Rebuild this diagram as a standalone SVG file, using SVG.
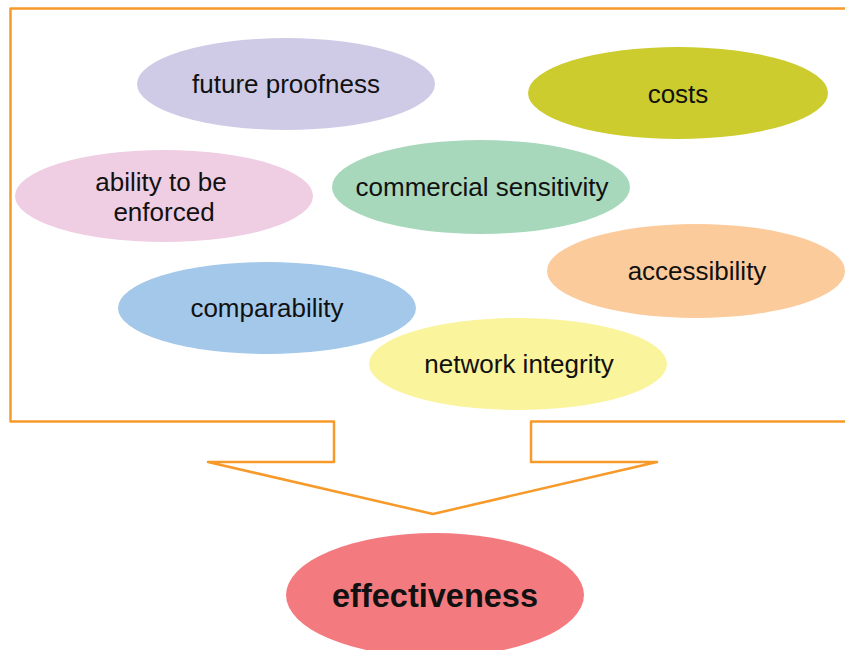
<svg xmlns="http://www.w3.org/2000/svg" width="845" height="650" viewBox="0 0 845 650">
<style>
.t{font-family:"Liberation Sans",Arial,sans-serif;font-size:26px;fill:#111;text-anchor:middle}
.b{font-family:"Liberation Sans",Arial,sans-serif;font-size:32.5px;font-weight:bold;fill:#111;text-anchor:middle}
</style>
<rect width="845" height="650" fill="#fff"/>
<g id="frame">
<path d="M848 8.5 H10.5 V421.5 H334 V462 H208 L433 514 L657 462 H531 V421.5 H848" fill="none" stroke="#f79a2a" stroke-width="2.5" stroke-linejoin="round"/>
</g>
<g id="future-proofness"><ellipse cx="286" cy="84" rx="149" ry="46" fill="#cfcbe6"/><text class="t" x="286" y="93">future proofness</text></g>
<g id="costs"><ellipse cx="678" cy="93" rx="150" ry="46" fill="#cccc2e"/><text class="t" x="678" y="103">costs</text></g>
<g id="ability"><ellipse cx="164" cy="196" rx="149" ry="46" fill="#efcde2"/><text class="t" x="161" y="191">ability to be</text><text class="t" x="164" y="221">enforced</text></g>
<g id="commercial-sensitivity"><ellipse cx="481" cy="187" rx="149" ry="47" fill="#a8d8bc"/><text class="t" x="482" y="196">commercial sensitivity</text></g>
<g id="accessibility"><ellipse cx="696" cy="271" rx="149" ry="47" fill="#fbcb9b"/><text class="t" x="697" y="280">accessibility</text></g>
<g id="comparability"><ellipse cx="267" cy="308" rx="149" ry="46" fill="#a4c8ea"/><text class="t" x="267" y="317">comparability</text></g>
<g id="network-integrity"><ellipse cx="518" cy="364" rx="149" ry="46" fill="#faf49c"/><text class="t" x="519" y="373">network integrity</text></g>
<g id="effectiveness"><ellipse cx="435" cy="595" rx="149" ry="62" fill="#f37b80"/><text class="b" x="435" y="607">effectiveness</text></g>
<g id="connectors"/>
</svg>
